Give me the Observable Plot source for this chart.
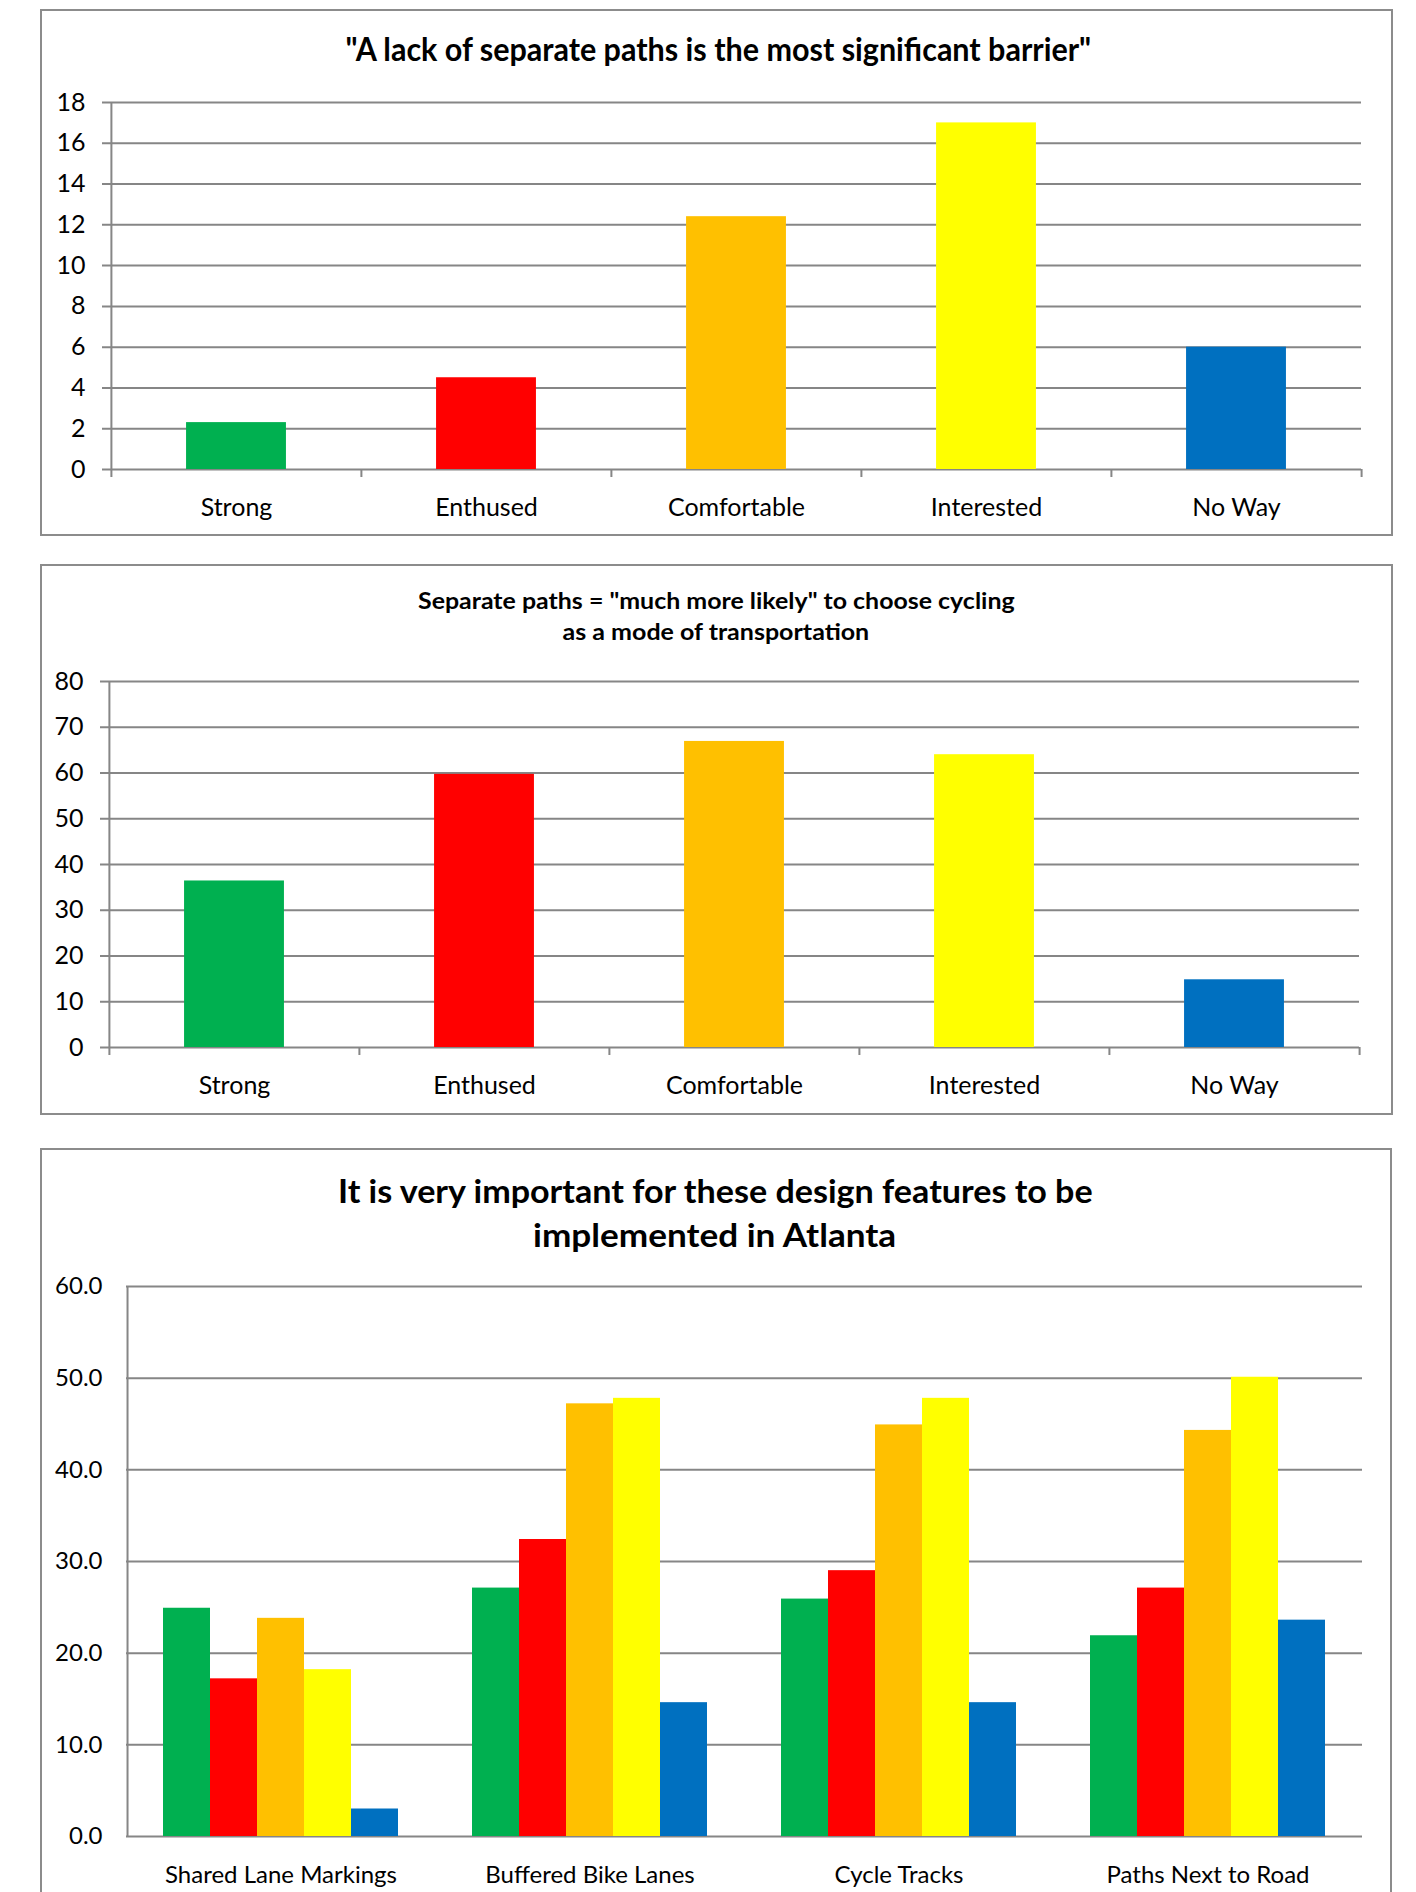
<!DOCTYPE html>
<html>
<head>
<meta charset="utf-8">
<script src="https://cdn.jsdelivr.net/npm/d3@7"></script>
<script src="https://cdn.jsdelivr.net/npm/@observablehq/plot@0.6"></script>
<style>
  html, body { margin: 0; padding: 0; background: #fff; }
  #page { position: relative; width: 1416px; height: 1892px; overflow: hidden; font-family: Lato, "Open Sans", sans-serif; }
  .box { position: absolute; border: 2px solid #8c8c8c; box-sizing: border-box; background: #fff; }
  .tline { position: absolute; text-align: center; font-weight: 700; color: #000; white-space: nowrap; }
  .tline span { display: inline-block; transform-origin: 50% 50%; }
  .chart { position: absolute; }
</style>
</head>
<body>
<div id="page"></div>
<script>
// ---------- data ----------
const categories = ["Strong", "Enthused", "Comfortable", "Interested", "No Way"];
const palette = ["#00B050", "#FF0000", "#FFC000", "#FFFF00", "#0070C0"];

const barrierTitle = ["\"A lack of separate paths is the most significant barrier\""];
const barrierValues = [2.3, 4.5, 12.4, 17.0, 6.0];
const barrierTicks = [0, 2, 4, 6, 8, 10, 12, 14, 16, 18];

const likelyTitle = ["Separate paths = \"much more likely\" to choose cycling", "as a mode of transportation"];
const likelyValues = [36.4, 59.7, 66.9, 64.0, 14.8];
const likelyTicks = [0, 10, 20, 30, 40, 50, 60, 70, 80];

const featureTitle = ["It is very important for these design features to be", "implemented in Atlanta"];
const features = ["Shared Lane Markings", "Buffered Bike Lanes", "Cycle Tracks", "Paths Next to Road"];
const strongValues      = [24.9, 27.1, 25.9, 21.9];
const enthusedValues    = [17.2, 32.4, 29.0, 27.1];
const comfortableValues = [23.8, 47.2, 44.9, 44.3];
const interestedValues  = [18.2, 47.8, 47.8, 50.1];
const noWayValues       = [3.0, 14.6, 14.6, 23.6];
const featureTicks = [0, 10, 20, 30, 40, 50, 60];

// ---------- helpers ----------
const GRID = "#868686";
const page = document.getElementById("page");

function addBox(left, top, width, height) {
  const d = document.createElement("div");
  d.className = "box";
  Object.assign(d.style, {left: left + "px", top: top + "px", width: width + "px", height: height + "px"});
  page.appendChild(d);
}

const titleSpans = [];
function addTitle(lines, {fontSize, baselines, widths, center}) {
  lines.forEach((txt, i) => {
    const d = document.createElement("div");
    d.className = "tline";
    Object.assign(d.style, {
      left: (center - 700) + "px", width: "1400px",
      top: (baselines[i] - 0.887 * fontSize) + "px",
      fontSize: fontSize + "px", lineHeight: fontSize + "px"
    });
    const s = document.createElement("span");
    s.textContent = txt;
    s.style.lineHeight = fontSize + "px";
    d.appendChild(s);
    page.appendChild(d);
    titleSpans.push([s, widths[i]]);
  });
}

function place(svg, left, top) {
  const w = document.createElement("div");
  w.className = "chart";
  w.style.left = left + "px";
  w.style.top = top + "px";
  w.appendChild(svg);
  page.appendChild(w);
}

const baseStyle = {background: "transparent", fontFamily: "Lato, sans-serif", fontSize: "24px", color: "#000", overflow: "visible"};

function simpleChart({values, ticks, height, marginTop, marginBottom, marginLeft, marginRight}) {
  const width = 1352;
  const bw = (width - marginLeft - marginRight) / categories.length;
  const data = categories.map((c, i) => ({category: c, value: values[i]}));
  const yMax = ticks[ticks.length - 1];
  return Plot.plot({
    width, height, marginTop, marginBottom, marginLeft, marginRight,
    style: baseStyle,
    x: {type: "band", domain: categories, padding: 0},
    y: {domain: [0, yMax]},
    color: {domain: categories, range: palette},
    marks: [
      Plot.ruleY(ticks, {stroke: GRID, strokeWidth: 2, insetLeft: -8}),
      Plot.barY(data, {x: "category", y: "value", fill: "category", insetLeft: 0.3 * bw, insetRight: 0.3 * bw}),
      Plot.ruleX(categories.slice(0, 1), {y1: yMax, y2: 0, dx: -bw / 2, insetBottom: -8, stroke: GRID, strokeWidth: 2}),
      Plot.ruleX(categories.slice(1), {y1: 0, y2: 0, dx: -bw / 2, insetBottom: -8, stroke: GRID, strokeWidth: 2}),
      Plot.ruleX(categories.slice(-1), {y1: 0, y2: 0, dx: bw / 2, insetBottom: -8, stroke: GRID, strokeWidth: 2}),
      Plot.axisY({ticks, tickSize: 0, tickPadding: 25, label: null, fontSize: 25}),
      Plot.axisX({tickSize: 0, tickPadding: 29, label: null, fontSize: 25})
    ]
  });
}

// ---------- chart 1 ----------
addBox(40, 9, 1353, 527);
addTitle(barrierTitle, {fontSize: 33, baselines: [61], widths: [746], center: 718});
place(simpleChart({values: barrierValues, ticks: barrierTicks, height: 470, marginTop: 42, marginBottom: 61, marginLeft: 69, marginRight: 32}), 41, 60);

// ---------- chart 2 ----------
addBox(40, 564, 1353, 551);
addTitle(likelyTitle, {fontSize: 22, baselines: [610, 641], widths: [597, 307], center: 716});
place(simpleChart({values: likelyValues, ticks: likelyTicks, height: 470, marginTop: 41, marginBottom: 63, marginLeft: 67, marginRight: 34}), 41, 640);

// ---------- chart 3 ----------
addBox(40, 1148, 1352, 780);
addTitle(featureTitle, {fontSize: 33, baselines: [1203, 1247], widths: [755, 363], center: 715});
{
  const width = 1352, marginLeft = 84, marginRight = 31;
  const seriesValues = [strongValues, enthusedValues, comfortableValues, interestedValues, noWayValues];
  const featureData = features.flatMap((f, i) => categories.map((s, j) => ({feature: f, series: s, value: seriesValues[j][i]})));
  const facetW = (width - marginLeft - marginRight) / features.length;
  const step = facetW / (categories.length + 1.5);
  const yMax = featureTicks[featureTicks.length - 1];
  const svg = Plot.plot({
    width, height: 640, marginTop: 36, marginBottom: 54, marginLeft, marginRight,
    style: baseStyle,
    fx: {domain: features, padding: 0, label: null},
    x: {type: "band", domain: categories, paddingInner: 0, paddingOuter: 0.75, axis: null},
    y: {domain: [0, yMax]},
    color: {domain: categories, range: palette},
    marks: [
      Plot.ruleY(featureTicks, {stroke: GRID, strokeWidth: 2}),
      Plot.barY(featureData, {fx: "feature", x: "series", y: "value", fill: "series"}),
      Plot.ruleX([{feature: features[0], series: categories[0]}], {fx: "feature", x: "series", y1: yMax, y2: 0, dx: -1.25 * step, stroke: GRID, strokeWidth: 2}),
      Plot.axisY({ticks: featureTicks, tickSize: 0, tickPadding: 24, tickFormat: d3.format(".1f"), label: null, fontSize: 24}),
      Plot.axisFx({anchor: "bottom", tickSize: 0, tickPadding: 29, label: null, fontSize: 24})
    ]
  });
  place(svg, 41, 1250);
}

// fit title widths
function fitTitles() {
  titleSpans.forEach(([s, w]) => {
    s.style.transform = "none";
    const actual = s.offsetWidth;
    if (actual > 0) s.style.transform = `scaleX(${w / actual})`;
  });
}
fitTitles();
if (document.fonts && document.fonts.ready) document.fonts.ready.then(fitTitles);
</script>
</body>
</html>
